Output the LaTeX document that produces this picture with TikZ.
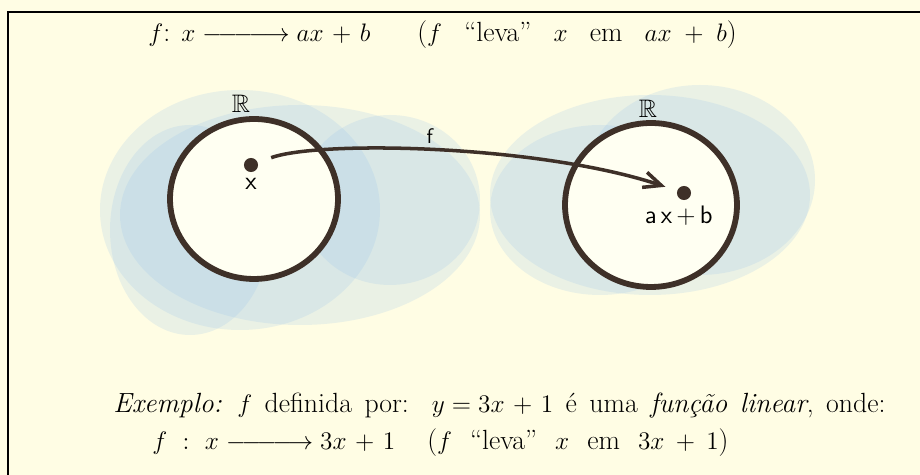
\documentclass[tikz,border=0pt]{standalone}
\usepackage{amsmath}
\usepackage{amssymb}
\usetikzlibrary{arrows.meta, positioning, shapes.geometric}

\definecolor{papel}{RGB}{255,253,228}
\definecolor{miolo}{RGB}{255,255,242}
\definecolor{lapis}{RGB}{62,48,40}
\definecolor{mancha}{RGB}{150,195,235}
\newcommand{\leva}{\mathrel{\relbar\joinrel\relbar\joinrel\relbar\joinrel\longrightarrow}}
\newcommand{\justo}{\medmuskip=6mu\relax}
\newcommand{\largo}{\medmuskip=9mu\relax\spaceskip=0.8em\relax}
\newcommand{\medio}{\medmuskip=6mu\relax\spaceskip=0.45em\relax}

\begin{document}
\begin{tikzpicture}[x=0.02cm, y=-0.02cm,
    texto/.style={anchor=base west, inner sep=0pt, font=\fontsize{15.8}{19}\selectfont\justo},
    conjunto/.style={ellipse, draw=lapis, line width=3.3pt, fill=miolo},
    ponto/.style={circle, fill=lapis, inner sep=0pt, minimum size=8pt},
    rotulo/.style={font=\sffamily\Large, inner sep=1pt},
    seta/.style={draw=lapis, line width=2pt, -{Straight Barb[length=10pt, width=9pt]}}]
    \useasboundingbox (0,0) rectangle (920,475);
    \fill[papel] (0,0) rectangle (920,475);
    \draw[line width=1.2pt] (8,475) -- (8,12) -- (920,12);

    % manchas azuis
    \foreach \cx/\cy/\rx/\ry in {240/210/140/120, 300/215/180/110, 190/230/80/105, 390/200/90/85,
                                 650/195/160/100, 700/180/115/95, 600/210/110/85}
        \fill[mancha, opacity=0.2] (\cx,\cy) ellipse [x radius=\rx, y radius=\ry];

    % conjuntos
    \node[conjunto, minimum width=3.36cm, minimum height=3.2cm] (A) at (254,199) {};
    \node[conjunto, minimum width=3.44cm, minimum height=3.28cm] (B) at (651,205) {};
    \node[rotulo] (RA) at (241,104) {$\mathbb{R}$};
    \node[rotulo] (RB) at (648,109) {$\mathbb{R}$};

    \node[ponto] (x) at (251,165) {};
    \node[rotulo, below=2pt of x] (xl) {x};
    \node[ponto] (y) at (684,193) {};
    \node[rotulo, below=2pt of y, xshift=-3pt] (yl) {a\,x\,+\,b};

    \draw[seta, shorten <=8pt, shorten >=7pt] (x) .. controls (320,140) and (540,145) .. (y)
        node[rotulo, font=\sffamily\large, pos=0.48, above=2pt] (fl) {f};

    % textos
    \node[texto] (t1) at (148,42) {$f$: $x \leva ax + b$};
    \node[texto] (t1b) at (417,42) {\largo($f$ ``leva'' $x$ em $ax + b$)};
    \node[texto] (t2) at (113,413) {\medio\textit{Exemplo:} $f$ definida por:\; $y = 3x + 1$ é uma \textit{função linear}, onde:};
    \node[texto] (t3) at (152,450) {$f\ :\ x \leva 3x + 1$};
    \node[texto] (t3b) at (427,450) {\medmuskip=8mu\relax\spaceskip=0.65em\relax($f$ ``leva'' $x$ em $3x + 1$)};
\end{tikzpicture}
\end{document}
